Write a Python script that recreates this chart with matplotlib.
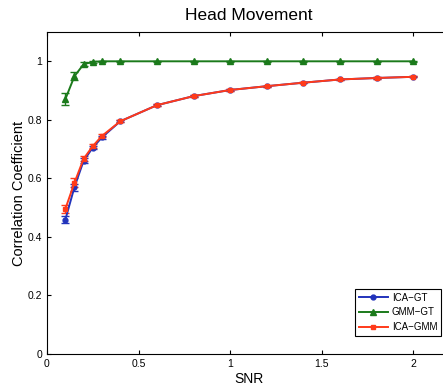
import numpy as np
import matplotlib
matplotlib.use('Agg')
import matplotlib.pyplot as plt
from matplotlib.lines import Line2D

# datos
snr = [0.1, 0.15, 0.2, 0.25, 0.3, 0.4, 0.6, 0.8, 1.0, 1.2, 1.4, 1.6, 1.8, 2.0]
ica_gt = [0.458, 0.570, 0.660, 0.705, 0.740, 0.795, 0.850, 0.881, 0.902, 0.915, 0.927, 0.938, 0.943, 0.947]
ica_gt_err = [0.012, 0.012, 0.008, 0.006, 0.005, 0.004, 0.003, 0.003, 0.002, 0.002, 0.002, 0.002, 0.002, 0.002]
gmm_gt = [0.870, 0.949, 0.990, 0.998, 1.0, 1.0, 1.0, 1.0, 1.0, 1.0, 1.0, 1.0, 1.0, 1.0]
gmm_gt_err = [0.020, 0.013, 0.007, 0.003, 0.002, 0.001, 0.001, 0.001, 0.001, 0.001, 0.001, 0.001, 0.001, 0.001]
ica_gmm = [0.495, 0.585, 0.667, 0.710, 0.745, 0.795, 0.850, 0.881, 0.902, 0.915, 0.927, 0.938, 0.943, 0.947]
ica_gmm_err = [0.015, 0.015, 0.008, 0.006, 0.005, 0.004, 0.003, 0.003, 0.002, 0.002, 0.002, 0.002, 0.002, 0.002]
etiquetas = ['ICA\u2212GT', 'GMM\u2212GT', 'ICA\u2212GMM']

plt.rcParams['font.family'] = ['Liberation Sans', 'DejaVu Sans']

fig = plt.figure(figsize=(4.43, 3.86), dpi=100)
ax = fig.add_axes([0.106, 0.083, 0.91, 0.834])

azul = '#2233bb'
verde = '#1b7a1b'
rojo = '#ff3a1a'

series = [(ica_gt, ica_gt_err, azul, 'o', 3.5),
          (gmm_gt, gmm_gt_err, verde, '^', 4),
          (ica_gmm, ica_gmm_err, rojo, 's', 3.5)]
manijas = []
for (y, e, c, m, ms), lab in zip(series, etiquetas):
    ax.errorbar(snr, y, yerr=e, color=c, marker=m, markersize=ms,
                linewidth=1.4, capsize=3, elinewidth=1)
    manijas.append(Line2D([], [], color=c, marker=m, markersize=ms, linewidth=1.4, label=lab))

ax.set_xlim(0, 2.2)
ax.set_ylim(0, 1.1)
ax.set_xticks([0, 0.5, 1, 1.5, 2])
ax.set_xticklabels(['0', '0.5', '1', '1.5', '2'])
ax.set_yticks([0, 0.2, 0.4, 0.6, 0.8, 1])
ax.set_yticklabels(['0', '0.2', '0.4', '0.6', '0.8', '1'])
ax.tick_params(direction='in', top=True, right=True, labelsize=7.5, length=3)

ax.set_title('Head Movement', fontsize=12.5, pad=9)
ax.set_xlabel('SNR', fontsize=10, labelpad=2)
ax.set_ylabel('Correlation Coefficient', fontsize=10.5, labelpad=1)

leg = ax.legend(handles=manijas, loc='lower right', bbox_to_anchor=(0.99, 0.04), fontsize=7,
                fancybox=False, edgecolor='black', framealpha=1,
                handlelength=3, borderpad=0.4, labelspacing=0.5, handletextpad=0.4)
leg.get_frame().set_linewidth(0.8)

plt.savefig('out.png', dpi=100)
plt.close()
